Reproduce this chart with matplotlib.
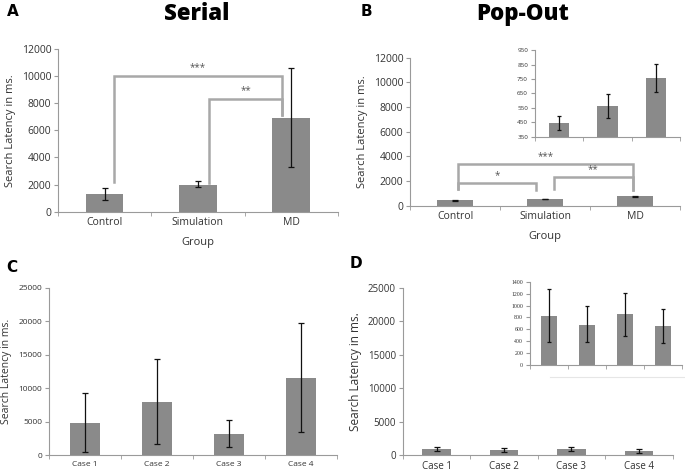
import numpy as np
import matplotlib.pyplot as plt

# Data
groups = ['Control', 'Simulation', 'MD']
serial_mean = [1300, 2000, 6900]
serial_lo = [900, 1800, 3300]
serial_hi = [1750, 2300, 10600]

popout_mean = [445, 560, 755]
popout_lo = [400, 480, 660]
popout_hi = [495, 645, 855]

cases = ['Case 1', 'Case 2', 'Case 3', 'Case 4']
case_serial_mean = [4800, 7900, 3200, 11500]
case_serial_lo = [500, 1700, 1200, 3400]
case_serial_hi = [9300, 14300, 5300, 19700]

case_popout_mean = [830, 680, 850, 650]
case_popout_lo = [390, 390, 480, 375]
case_popout_hi = [1280, 990, 1215, 940]

BAR = '#8a8a8a'
AXC = '#9a9a9a'
TXT = '#333333'
BRK = '#a8a8a8'

plt.rcParams['font.family'] = ['Open Sans', 'DejaVu Sans']

fig = plt.figure(figsize=(6.85, 4.72), dpi=100)


def errs(mean, lo, hi):
    m = np.array(mean)
    return [m - np.array(lo), np.array(hi) - m]


def bar_axes(rect, labels, mean, lo, hi, ylim, step, width, tick_fs, lab_fs,
             capsize=2.5, ylabel=None, xlabel=None, show_xticklabels=True):
    ax = fig.add_axes(rect)
    x = np.arange(len(labels))
    ax.bar(x, mean, width=width, color=BAR, edgecolor='none', zorder=2)
    ax.errorbar(x, mean, yerr=errs(mean, lo, hi), fmt='none', ecolor='#111111',
                elinewidth=0.9, capsize=capsize, capthick=0.9, zorder=3)
    ax.set_xlim(-0.5, len(labels) - 0.5)
    ax.set_ylim(*ylim)
    ax.set_yticks(np.arange(ylim[0], ylim[1] + 1, step))
    for s in ['top', 'right']:
        ax.spines[s].set_visible(False)
    for s in ['left', 'bottom']:
        ax.spines[s].set_color(AXC)
        ax.spines[s].set_linewidth(0.8)
    ax.set_xticks(x)
    ax.set_xticklabels(labels if show_xticklabels else [])
    ax.set_xticks(np.arange(-0.5, len(labels)), minor=True)
    ax.tick_params(axis='x', which='major', length=0, labelsize=tick_fs, colors=TXT, pad=4)
    ax.tick_params(axis='x', which='minor', length=3, color=AXC)
    ax.tick_params(axis='y', length=3, color=AXC, labelsize=tick_fs, labelcolor=TXT, pad=2)
    ax.set_facecolor('none')
    if ylabel:
        ax.set_ylabel(ylabel, fontsize=lab_fs, color=TXT, labelpad=4)
    if xlabel:
        ax.set_xlabel(xlabel, fontsize=lab_fs, color=TXT, labelpad=6)
    return ax


def bracket(ax, x0, x1, y, y0, y1, text, dy):
    ax.plot([x0, x0, x1, x1], [y0, y, y, y1], color=BRK, lw=1.8, zorder=1,
            solid_joinstyle='miter')
    ax.text((x0 + x1) / 2, y + dy, text, ha='center', va='bottom',
            fontsize=7, color='#555555')


# Panel A
axA = bar_axes([0.085, 0.551, 0.408, 0.346], groups, serial_mean, serial_lo,
               serial_hi, (0, 12000), 2000, 0.4, 7.5, 8,
               ylabel='Search Latency in ms.', xlabel='Group')
bracket(axA, 0.1, 1.9, 10000, 2200, 7100, '***', 200)
bracket(axA, 1.12, 1.9, 8300, 2100, 7100, '**', 200)

# Panel B
axB = bar_axes([0.599, 0.564, 0.394, 0.314], groups, popout_mean,
               np.array(popout_mean) - 30, np.array(popout_mean) + 30,
               (0, 12000), 2000, 0.4, 7.5, 8,
               ylabel='Search Latency in ms.', xlabel='Group')
bracket(axB, 0.035, 1.97, 3400, 1350, 1250, '***', 150)
bracket(axB, 0.035, 0.9, 1850, 1350, 1300, '*', 150)
bracket(axB, 1.1, 1.97, 2370, 1400, 1250, '**', 150)

axBi = bar_axes([0.781, 0.710, 0.212, 0.184], groups, popout_mean, popout_lo,
                popout_hi, (350, 950), 100, 0.42, 4.5, 5, capsize=1.5,
                show_xticklabels=False)

# Panel C
axC = bar_axes([0.0715, 0.036, 0.42, 0.354], cases, case_serial_mean,
               case_serial_lo, case_serial_hi, (0, 25000), 5000, 0.42, 6, 7.5,
               ylabel='Search Latency in ms.')
axC.yaxis.set_label_coords(-0.128, 0.5)

# Panel D
axD = bar_axes([0.588, 0.036, 0.394, 0.354], cases, case_popout_mean,
               np.array(case_popout_mean) - 300, np.array(case_popout_mean) + 300,
               (0, 25000), 5000, 0.42, 7, 8.5,
               ylabel='Search Latency in ms.')

axDi = bar_axes([0.774, 0.227, 0.222, 0.176], cases, case_popout_mean,
                case_popout_lo, case_popout_hi, (0, 1400), 200, 0.42, 4.2, 5,
                capsize=1.5, show_xticklabels=False)
for t in axDi.get_yticklabels():
    t.set_fontfamily(['Liberation Serif', 'DejaVu Serif'])

# line under inset D
fig.add_artist(plt.Line2D([550 / 685, 685 / 685], [1 - 377 / 472, 1 - 377 / 472],
                          color='#e6e6e6', lw=0.8))

# Titles and panel letters
fig.text(197 / 685, 1 - 14 / 472, 'Serial', ha='center', va='center',
         fontsize=16, fontweight='heavy', color='black')
fig.text(523 / 685, 1 - 14 / 472, 'Pop-Out', ha='center', va='center',
         fontsize=16, fontweight='heavy', color='black')
for lab, px, py in [('A', 13, 12), ('B', 366, 12), ('C', 12, 267), ('D', 356, 263)]:
    fig.text(px / 685, 1 - py / 472, lab, ha='center', va='center',
             fontsize=11, fontweight='bold', color='black',
             family=['DejaVu Sans'])

fig.savefig('out.png', dpi=100)
